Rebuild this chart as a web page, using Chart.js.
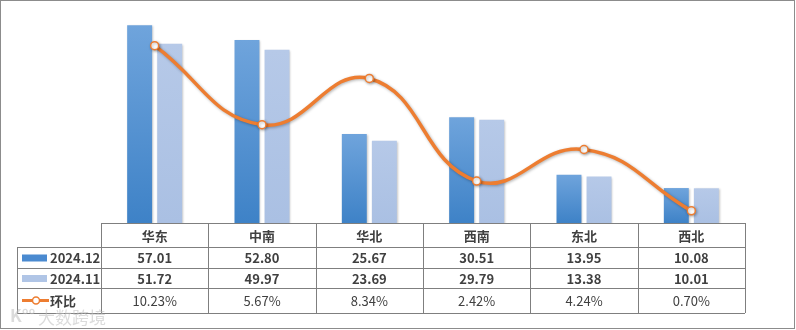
<!DOCTYPE html>
<html>
<head>
<meta charset="utf-8">
<script src="https://cdn.jsdelivr.net/npm/chart.js@4/dist/chart.umd.min.js"></script>
<style>
  html, body { margin: 0; padding: 0; background: #fff; }
  .chart-container { width: 796px; height: 330px; position: relative; }
</style>
</head>
<body>
<div class="chart-container"><canvas id="chart" width="796" height="330"></canvas></div>
<script>
// regional volumes for two months plus month-on-month change
const regions = ['华东', '中南', '华北', '西南', '东北', '西北'];
const dec2024 = [57.01, 52.80, 25.67, 30.51, 13.95, 10.08];
const nov2024 = [51.72, 49.97, 23.69, 29.79, 13.38, 10.01];
const momPct = [10.23, 5.67, 8.34, 2.42, 4.24, 0.70];
const seriesNames = ['2024.12', '2024.11', '环比'];

const FONT = '"Noto Sans CJK SC", "Noto Sans", sans-serif';
const TEXT = '#404040';
const GRID = '#7f7f7f';
const ORANGE = '#ED7D31';

// per-bar vertical gradient (lighter on top)
function barFill(top, bottom) {
  return function (ctx) {
    const chart = ctx.chart;
    if (ctx.type !== 'data' || !chart.chartArea) return bottom;
    const y = chart.scales.y;
    const yTop = y.getPixelForValue(ctx.raw);
    const yBase = y.getPixelForValue(0);
    if (!isFinite(yTop) || yBase - yTop < 1) return bottom;
    const g = chart.ctx.createLinearGradient(0, yTop, 0, yBase);
    g.addColorStop(0, top);
    g.addColorStop(1, bottom);
    return g;
  };
}

// soft drop shadow under bars and the line
const shadowPlugin = {
  id: 'shadow',
  beforeDatasetDraw(chart, args) {
    const c = chart.ctx;
    c.save();
    const isLine = args.meta.type === 'line';
    c.shadowColor = isLine ? 'rgba(0,0,0,0.30)' : 'rgba(0,0,0,0.22)';
    c.shadowBlur = isLine ? 3 : 2;
    c.shadowOffsetX = 1;
    c.shadowOffsetY = 1;
  },
  afterDatasetDraw(chart) {
    chart.ctx.restore();
  }
};

// white background, outer frame, data table and watermark
const tablePlugin = {
  id: 'dataTable',
  beforeDraw(chart) {
    const c = chart.ctx;
    c.save();
    c.fillStyle = '#fff';
    c.fillRect(0, 0, chart.width, chart.height);
    c.restore();
  },
  afterDraw(chart) {
    const c = chart.ctx;
    const x = chart.scales.x;
    const area = chart.chartArea;
    const colW = (area.right - area.left) / regions.length;
    const rows = [area.bottom, area.bottom + 24, area.bottom + 45, area.bottom + 65, area.bottom + 90];
    const legendLeft = 17;

    c.save();
    // outer frame
    c.strokeStyle = '#8c8c8c';
    c.lineWidth = 1;
    c.strokeRect(0.5, 0.5, 794, 328);

    // table grid
    c.strokeStyle = GRID;
    c.beginPath();
    c.moveTo(area.left, rows[0] + 0.5);
    c.lineTo(area.right, rows[0] + 0.5);
    for (let r = 1; r < rows.length; r++) {
      c.moveTo(legendLeft, rows[r] + 0.5);
      c.lineTo(area.right, rows[r] + 0.5);
    }
    c.moveTo(legendLeft + 0.5, rows[1]);
    c.lineTo(legendLeft + 0.5, rows[4]);
    for (let i = 0; i <= regions.length; i++) {
      const px = Math.round(area.left + colW * i) + 0.5;
      c.moveTo(px, rows[0]);
      c.lineTo(px, rows[4]);
    }
    c.stroke();

    // header and values
    c.textAlign = 'center';
    c.textBaseline = 'middle';
    c.fillStyle = TEXT;
    regions.forEach((name, i) => {
      const cx = x.getPixelForValue(i);
      c.font = 'bold 13px ' + FONT;
      c.fillText(name, cx, (rows[0] + rows[1]) / 2 + 1);
      c.fillText(dec2024[i].toFixed(2), cx, (rows[1] + rows[2]) / 2 + 1);
      c.fillText(nov2024[i].toFixed(2), cx, (rows[2] + rows[3]) / 2 + 1);
      c.font = '13px ' + FONT;
      c.fillText(momPct[i].toFixed(2) + '%', cx, (rows[3] + rows[4]) / 2 + 1);
    });

    // legend keys in the first column
    c.textAlign = 'left';
    c.font = 'bold 13px ' + FONT;
    const keyX = 22, keyW = 25, labelX = 50;
    const r1 = (rows[1] + rows[2]) / 2, r2 = (rows[2] + rows[3]) / 2, r3 = (rows[3] + rows[4]) / 2;
    c.fillStyle = '#4a8ad0';
    c.fillRect(keyX, r1 - 3, keyW, 7);
    c.fillStyle = '#b0c5e6';
    c.fillRect(keyX, r2 - 3, keyW, 7);
    c.strokeStyle = ORANGE;
    c.lineWidth = 3;
    c.beginPath();
    c.moveTo(keyX, r3);
    c.lineTo(keyX + keyW + 2, r3);
    c.stroke();
    c.beginPath();
    c.arc(keyX + 14, r3, 3.5, 0, Math.PI * 2);
    c.fillStyle = '#fff';
    c.fill();
    c.lineWidth = 1.5;
    c.stroke();
    c.fillStyle = TEXT;
    c.fillText(seriesNames[0], labelX, r1 + 1);
    c.fillText(seriesNames[1], labelX, r2 + 1);
    c.fillText(seriesNames[2], labelX, r3 + 1);

    // watermark
    c.font = '17px ' + FONT;
    c.fillStyle = 'rgba(190,190,190,0.55)';
    c.fillText('大数跨境', 38, 318);
    c.font = 'bold 17px ' + FONT;
    c.fillText('K°°', 10, 316);
    c.restore();
  }
};

new Chart(document.getElementById('chart'), {
  type: 'bar',
  data: {
    labels: regions,
    datasets: [
      {
        label: seriesNames[2],
        type: 'line',
        data: momPct,
        yAxisID: 'y1',
        order: 0,
        borderColor: ORANGE,
        borderWidth: 3.5,
        tension: 0.45,
        pointRadius: 4,
        pointBorderWidth: 1.5,
        pointBackgroundColor: '#fff',
        pointBorderColor: ORANGE,
        clip: false
      },
      {
        label: seriesNames[0],
        data: dec2024,
        yAxisID: 'y',
        order: 1,
        backgroundColor: barFill('#6fa4dc', '#3e82c7'),
        categoryPercentage: 0.56,
        barPercentage: 0.83
      },
      {
        label: seriesNames[1],
        data: nov2024,
        yAxisID: 'y',
        order: 1,
        backgroundColor: barFill('#b6c9e8', '#aac0e3'),
        categoryPercentage: 0.56,
        barPercentage: 0.83
      }
    ]
  },
  options: {
    responsive: false,
    animation: false,
    devicePixelRatio: 1,
    layout: { padding: { left: 101, right: 51, top: 15, bottom: 107 } },
    plugins: {
      legend: { display: false },
      tooltip: { enabled: false }
    },
    scales: {
      x: { display: false, offset: true },
      y: { display: false, min: 0, max: 60 },
      y1: { display: false, min: 0, max: 12, position: 'right' }
    }
  },
  plugins: [shadowPlugin, tablePlugin]
});
</script>
</body>
</html>
